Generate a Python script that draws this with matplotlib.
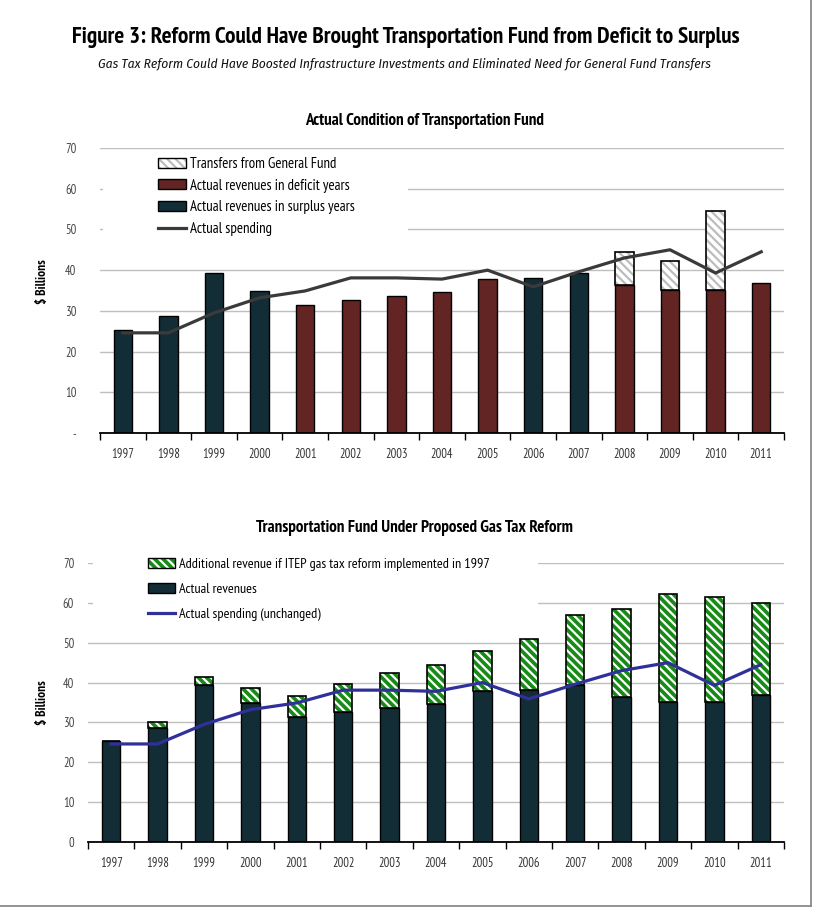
import matplotlib.pyplot as plt
import numpy as np
from matplotlib.patches import Rectangle
from matplotlib.lines import Line2D
from matplotlib.legend_handler import HandlerTuple

NARROW = ['PT Sans Narrow', 'Liberation Sans Narrow', 'DejaVu Sans']
ITAL = ['Fira Sans Condensed', 'Barlow Condensed', 'DejaVu Sans']
plt.rcParams['font.family'] = NARROW
plt.rcParams['hatch.linewidth'] = 1.6

years = ['1997', '1998', '1999', '2000', '2001', '2002', '2003', '2004',
         '2005', '2006', '2007', '2008', '2009', '2010', '2011']
revenues = [25.3, 28.7, 39.3, 34.9, 31.4, 32.7, 33.7, 34.6,
            37.8, 38.1, 39.3, 36.4, 35.1, 35.1, 36.8]
surplus_year = [True, True, True, True, False, False, False, False,
                False, True, True, False, False, False, False]
transfers = [0, 0, 0, 0, 0, 0, 0, 0, 0, 0, 0, 8.1, 7.1, 19.4, 0]
spending = [24.6, 24.6, 29.5, 33.2, 34.9, 38.1, 38.1, 37.8,
            40.0, 35.9, 39.6, 43.0, 45.0, 39.3, 44.5]
reform_total = [25.3, 30.1, 41.4, 38.6, 36.6, 39.6, 42.4, 44.4,
                47.9, 50.9, 56.9, 58.4, 62.2, 61.4, 59.9]

teal = '#132d36'
red = '#632424'
gray_hatch = '#bdbdbd'
green = '#178a17'
grid_c = '#bfbfbf'
HATCH = '\\' * 4

x = np.arange(len(years))
w = 0.4

W, H = 815, 909
fig = plt.figure(figsize=(8.15, 9.09), dpi=100)
renderer = fig.canvas.get_renderer()


def fit(t, target_px):
    # scale a text so its rendered width matches the reference
    wpx = t.get_window_extent(renderer).width
    t.set_fontsize(t.get_fontsize() * target_px / wpx)
    return t


def fit_size(s, target_px, **kw):
    t = fig.text(0, 0, s, fontsize=10, **kw)
    wpx = t.get_window_extent(renderer).width
    t.remove()
    return 10 * target_px / wpx


fit(fig.text(406 / W, 1 - 38 / H, 'Figure 3: Reform Could Have Brought Transportation Fund from Deficit to Surplus',
             ha='center', va='center', fontsize=16, fontweight='bold'), 667)
fit(fig.text(404 / W, 1 - 64 / H, 'Gas Tax Reform Could Have Boosted Infrastructure Investments and Eliminated Need for General Fund Transfers',
             ha='center', va='center', fontsize=10, style='italic', fontweight='normal', family=ITAL,
             color='#111111'), 614)
fit(fig.text(424 / W, 1 - 121 / H, 'Actual Condition of Transportation Fund',
             ha='center', va='center', fontsize=11, fontweight='bold'), 238)
fit(fig.text(415 / W, 1 - 528 / H, 'Transportation Fund Under Proposed Gas Tax Reform',
             ha='center', va='center', fontsize=11, fontweight='bold'), 315)

# page border (right and bottom edges only)
fig.lines.append(Line2D([811 / W, 811 / W], [1 - 906 / H, 1.0], transform=fig.transFigure,
                        color='#8a8a8a', lw=1.3))
fig.lines.append(Line2D([0, 811 / W], [1 - 906 / H, 1 - 906 / H], transform=fig.transFigure,
                        color='#8a8a8a', lw=1.3))


def style_axes(ax, zero_label, pad_y, label_y):
    ax.set_xlim(-0.5, len(years) - 0.5)
    ax.set_ylim(0, 70)
    ax.set_yticks(range(0, 71, 10))
    ax.set_yticklabels([zero_label] + [str(v) for v in range(10, 71, 10)])
    ax.set_xticks(x)
    ax.set_xticklabels(years)
    ax.set_xticks(np.arange(-0.5, len(years)), minor=True)
    ax.tick_params(axis='x', which='major', length=0, pad=11, labelsize=9, labelcolor='#333333')
    ax.tick_params(axis='x', which='minor', length=5, width=1, color='black')
    ax.tick_params(axis='y', length=0, pad=pad_y, labelsize=9, labelcolor='#444444')
    for s in ['top', 'right', 'left']:
        ax.spines[s].set_visible(False)
    ax.spines['bottom'].set_linewidth(1.3)
    ax.yaxis.grid(True, color=grid_c, lw=1)
    ax.set_axisbelow(True)
    ax.set_ylabel('$ Billions', fontsize=9.5, fontweight='bold')
    ax.yaxis.set_label_coords(49 / W, label_y, transform=fig.transFigure)


# ---- top chart ----
ax1 = fig.add_axes([100 / W, 1 - 433 / H, 684 / W, 285 / H])
style_axes(ax1, '-', 17, 1 - 282 / H)
# white box of the legend hiding the gridlines behind it
ax1.add_patch(Rectangle((0.005, 0.62), 0.445, 0.37, transform=ax1.transAxes,
                        facecolor='white', edgecolor='none', zorder=1.5))
cols = [teal if s else red for s in surplus_year]
ax1.bar(x, revenues, w, color=cols, edgecolor='black', lw=1, zorder=2)
tr_idx = [i for i, t in enumerate(transfers) if t > 0]
tr_x = x[tr_idx]
tr_v = [transfers[i] for i in tr_idx]
tr_b = [revenues[i] for i in tr_idx]
ax1.bar(tr_x, tr_v, w, bottom=tr_b, color='white', edgecolor=gray_hatch, hatch=HATCH, lw=0, zorder=2)
ax1.bar(tr_x, tr_v, w, bottom=tr_b, fill=False, edgecolor='black', lw=1.2, zorder=2)
ax1.plot(x, spending, color='#3a3a3a', lw=2.3, zorder=3)

fs1 = fit_size('Transfers from General Fund', 147)
h_tr = (Rectangle((0, 0), 1, 1, facecolor='white', edgecolor=gray_hatch, hatch=HATCH, lw=0),
        Rectangle((0, 0), 1, 1, fill=False, edgecolor='black', lw=1))
h_def = Rectangle((0, 0), 1, 1, facecolor=red, edgecolor='black', lw=1)
h_sur = Rectangle((0, 0), 1, 1, facecolor=teal, edgecolor='black', lw=1)
h_sp, = ax1.plot([], [], color='#3a3a3a', lw=2.3)
fpx1 = fs1 * 100 / 72
ax1.legend([h_tr, h_def, h_sur, h_sp],
           ['Transfers from General Fund', 'Actual revenues in deficit years',
            'Actual revenues in surplus years', 'Actual spending'],
           handler_map={tuple: HandlerTuple(ndivide=1, pad=0)},
           loc='upper left', bbox_to_anchor=(158 / W, 1 - 157 / H), bbox_transform=fig.transFigure,
           frameon=False, fontsize=fs1, handlelength=28 / fpx1, handleheight=10 / fpx1,
           labelspacing=(22.5 - fpx1) / fpx1, borderpad=0, handletextpad=4 / fpx1,
           borderaxespad=0)

# ---- bottom chart ----
ax2 = fig.add_axes([88 / W, 1 - 842 / H, 696 / W, 279 / H])
style_axes(ax2, '0', 10, 1 - 703 / H)
ax2.add_patch(Rectangle((0.007, 0.79), 0.64, 0.22, transform=ax2.transAxes, clip_on=False,
                        facecolor='white', edgecolor='none', zorder=1.5))
add = [t - r for t, r in zip(reform_total, revenues)]
ax2.bar(x, revenues, w, color=teal, edgecolor='black', lw=1, zorder=2)
ax2.bar(x, add, w, bottom=revenues, color=green, edgecolor='white', hatch=HATCH, lw=0, zorder=2)
ax2.bar(x, add, w, bottom=revenues, fill=False, edgecolor='black', lw=1.2, zorder=2)
ax2.plot(x, spending, color='#30309a', lw=2.3, zorder=3)

fs2 = fit_size('Additional revenue if ITEP gas tax reform implemented in 1997', 309)
fpx2 = fs2 * 100 / 72
h_add = (Rectangle((0, 0), 1, 1, facecolor=green, edgecolor='white', hatch=HATCH, lw=0),
         Rectangle((0, 0), 1, 1, fill=False, edgecolor='black', lw=1))
h_rev = Rectangle((0, 0), 1, 1, facecolor=teal, edgecolor='black', lw=1)
h_sp2, = ax2.plot([], [], color='#30309a', lw=2.3)
ax2.legend([h_add, h_rev, h_sp2],
           ['Additional revenue if ITEP gas tax reform implemented in 1997',
            'Actual revenues', 'Actual spending (unchanged)'],
           handler_map={tuple: HandlerTuple(ndivide=1, pad=0)},
           loc='upper left', bbox_to_anchor=(148 / W, 1 - 558 / H), bbox_transform=fig.transFigure,
           frameon=False, fontsize=fs2, handlelength=27 / fpx2, handleheight=10 / fpx2,
           labelspacing=(26 - fpx2) / fpx2, borderpad=0, handletextpad=4 / fpx2,
           borderaxespad=0)

fig.savefig('out.png', dpi=100)
